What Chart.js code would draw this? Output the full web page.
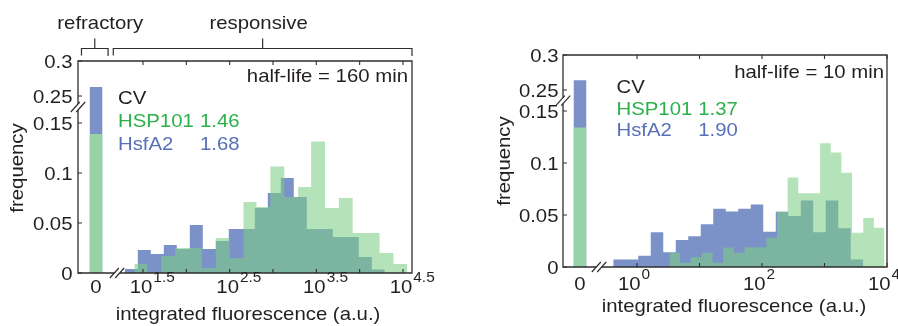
<!DOCTYPE html>
<html>
<head>
<meta charset="utf-8">
<script src="https://cdn.jsdelivr.net/npm/chart.js@4.4.1/dist/chart.umd.min.js"></script>
<style>
  html, body { margin: 0; padding: 0; background: #fff; width: 898px; height: 326px; overflow: hidden; }
  canvas { position: absolute; top: 0; }
  #slow { left: 0; }
  #fast { left: 449px; }
</style>
</head>
<body>
<canvas id="slow" width="449" height="326"></canvas>
<canvas id="fast" width="449" height="326"></canvas>
<script>
// ---------- histogram data (x = log10 of integrated fluorescence) ----------
// half-life = 160 min
const slowBlueEdges  = [1.29, 1.44, 1.59, 1.74, 1.89, 2.04, 2.19, 2.34, 2.49, 2.64, 2.79,
                        2.94, 3.09, 3.24, 3.39, 3.54, 3.69, 3.84, 3.99, 4.14, 4.29];
const slowBlueFreq   = [0.004, 0.023, 0.019, 0.028, 0.024, 0.048, 0.024, 0.032, 0.044, 0.044,
                        0.065, 0.080, 0.095, 0.076, 0.044, 0.044, 0.036, 0.036, 0.016, 0.0035];
const slowGreenEdges = [1.40, 1.55, 1.71, 1.87, 2.03, 2.18, 2.34, 2.50, 2.66, 2.81, 2.97,
                        3.13, 3.29, 3.44, 3.60, 3.76, 3.92, 4.07, 4.23, 4.39, 4.55];
const slowGreenFreq  = [0.009, 0, 0.017, 0.025, 0.025, 0.005, 0.035, 0.015, 0.071, 0.066,
                        0.1065, 0.076, 0.086, 0.1315, 0.065, 0.075, 0.040, 0.040, 0.020, 0.009];
const slowZeroBlue   = 0.263;   // HsfA2, refractory (zero) bin
const slowZeroGreen  = 0.139;   // HSP101, refractory (zero) bin
const slowCV         = ['1.46', '1.68'];   // HSP101, HsfA2

// half-life = 10 min
const fastBlueEdges  = [-0.38, -0.18, 0.02, 0.22, 0.42, 0.62, 0.82, 1.02, 1.22, 1.42, 1.62,
                        1.82, 2.02, 2.22, 2.42, 2.62, 2.82, 3.02, 3.22, 3.42, 3.62];
const fastBlueFreq   = [0.0072, 0.0072, 0.0108, 0.0335, 0.0142, 0.026, 0.0296, 0.041, 0.056, 0.0534,
                        0.056, 0.060, 0.034, 0.053, 0.049, 0.064, 0.0335, 0.064, 0.0373, 0.0072];
const fastGreenEdges = [0.52, 0.69, 0.86, 1.04, 1.21, 1.38, 1.55, 1.72, 1.90, 2.07, 2.24,
                        2.41, 2.58, 2.76, 2.93, 3.10, 3.27, 3.44, 3.62, 3.79, 3.96];
const fastGreenFreq  = [0.0137, 0.004, 0.0094, 0.0137, 0.004, 0.0188, 0.0137, 0.019, 0.019, 0.028,
                        0.053, 0.086, 0.071, 0.071, 0.119, 0.110, 0.0905, 0.033, 0.047, 0.0377];
const fastZeroBlue   = 0.264;
const fastZeroGreen  = 0.134;
const fastCV         = ['1.37', '1.90'];

// ---------- tick labels ----------
const yTickValues = [0, 0.05, 0.1, 0.15, 0.25, 0.3];
const yTickLabels = ['0', '0.05', '0.1', '0.15', '0.25', '0.3'];
const slowXTickMarks = [1.5, 2, 2.5, 3, 3.5, 4, 4.5];
const slowXLabelVals = [1.5, 2.5, 3.5, 4.5];
const slowXLabelExps = ['1.5', '2.5', '3.5', '4.5'];
const fastXTickMarks = [0, 1, 2, 3, 4];
const fastXLabelVals = [0, 2, 4];
const fastXLabelExps = ['0', '2', '4'];

// ---------- styling ----------
const FONT = '"Liberation Sans", Arial, Helvetica, sans-serif';
const INK = '#231f20';
const AXIS = '#2e2e2e';
const BLUE_FILL = '#7a92c8';
const GREEN_FILL = 'rgba(125, 206, 132, 0.57)';
const ZERO_BLUE = '#7b91c8';
const ZERO_GREEN = '#97d3a6';
const GREEN_TEXT = '#2bb04a';
const BLUE_TEXT = '#5870b8';
const SX = 1.1;   // horizontal text stretch
const EXP_SIZE = 14;

function drawText(ctx, s, x, y, opt = {}) {
  const size = opt.size || 18.5;
  ctx.save();
  ctx.font = size + 'px ' + FONT;
  ctx.fillStyle = opt.color || INK;
  ctx.textBaseline = 'alphabetic';
  ctx.textAlign = 'left';
  const w = ctx.measureText(s).width * SX;
  let x0 = x;
  if (opt.align === 'right') x0 = x - w;
  else if (opt.align === 'center') x0 = x - w / 2;
  ctx.translate(x0, y);
  ctx.scale(SX, 1);
  ctx.fillText(s, 0, 0);
  ctx.restore();
  return w;
}
function textWidth(ctx, s, size) {
  ctx.save();
  ctx.font = size + 'px ' + FONT;
  const w = ctx.measureText(s).width * SX;
  ctx.restore();
  return w;
}

// Step outline of a histogram, closed down to zero on both ends
function histPoints(edges, freq, map) {
  const pts = [{ x: edges[0], y: 0 }];
  for (let i = 0; i < freq.length; i++) {
    pts.push({ x: edges[i], y: map(freq[i]) });
    pts.push({ x: edges[i + 1], y: map(freq[i]) });
  }
  pts.push({ x: edges[freq.length], y: 0 });
  return pts;
}

function histDataset(points, color, order) {
  return {
    data: points, order: order,
    showLine: true, fill: 'origin', tension: 0,
    backgroundColor: color, borderColor: 'transparent', borderWidth: 0,
    pointRadius: 0
  };
}

// Slanted "//" marks where an axis is broken
function breakMarks(ctx, cx, cy, vertical) {
  ctx.save();
  ctx.fillStyle = '#fff';
  if (vertical) ctx.fillRect(cx - 2, cy - 3, 4, 6);
  else ctx.fillRect(cx - 3, cy - 2, 6, 4);
  ctx.strokeStyle = AXIS;
  ctx.lineWidth = 1.2;
  ctx.beginPath();
  for (const d of [-2.7, 2.7]) {
    ctx.moveTo(cx + d - 4.5, cy + 5);
    ctx.lineTo(cx + d + 4.5, cy - 5);
  }
  ctx.stroke();
  ctx.restore();
}

function decorPlugin(p) {
  return {
    id: 'decor_' + p.name,
    afterDatasetsDraw(chart) {
      const ctx = chart.ctx;
      const xs = chart.scales.x, ys = chart.scales.y;
      const { left, right, top, bottom } = chart.chartArea;
      const X = v => xs.getPixelForValue(v);
      const Y = v => ys.getPixelForValue(p.yMap(v));

      // box
      ctx.save();
      ctx.strokeStyle = AXIS;
      ctx.lineWidth = 1.3;
      ctx.beginPath();
      ctx.moveTo(left, top); ctx.lineTo(right, top); ctx.lineTo(right, bottom);
      ctx.lineTo(left, bottom); ctx.closePath();
      ctx.stroke();

      // inward ticks
      ctx.lineWidth = 1.1;
      ctx.beginPath();
      yTickValues.forEach(v => {
        const py = Y(v);
        ctx.moveTo(left, py); ctx.lineTo(left + 4, py);
      });
      p.xTickMarks.forEach(v => {
        const px = X(v);
        ctx.moveTo(px, bottom); ctx.lineTo(px, bottom - 4);
        ctx.moveTo(px, top); ctx.lineTo(px, top + 4);
      });
      ctx.stroke();
      ctx.restore();

      // axis breaks
      breakMarks(ctx, left, ys.getPixelForValue(p.breakU), true);
      breakMarks(ctx, X(p.xBreak), bottom, false);

      // y tick labels
      yTickValues.forEach((v, i) => {
        drawText(ctx, yTickLabels[i], left - p.yLabelGap, Y(v) + 6.6, { align: 'right' });
      });

      // x tick labels: zero slot and powers of ten
      drawText(ctx, '0', X(p.zeroCenter), p.xLabelBase, { align: 'center' });
      p.xLabelVals.forEach((v, i) => {
        const wb = textWidth(ctx, '10', 18.5);
        const we = textWidth(ctx, p.xLabelExps[i], EXP_SIZE);
        const px = X(v) + p.xLabelShift;
        const x0 = p.centerBase ? px - wb / 2 : px - (wb + we + 1) / 2;
        drawText(ctx, '10', x0, p.xLabelBase);
        drawText(ctx, p.xLabelExps[i], x0 + wb + 1, p.xLabelBase - 11, { size: EXP_SIZE });
      });

      // axis titles
      drawText(ctx, 'integrated fluorescence (a.u.)', p.xTitleX, p.xTitleY, { align: 'center' });
      ctx.save();
      ctx.translate(p.yTitleX, p.yTitleY);
      ctx.rotate(-Math.PI / 2);
      drawText(ctx, 'frequency', 0, 0, { align: 'center' });
      ctx.restore();

      // annotations
      drawText(ctx, p.halfLife, p.halfLifeX, p.halfLifeY, { align: 'right' });
      drawText(ctx, 'CV', p.cvX, p.cvY[0]);
      drawText(ctx, 'HSP101', p.cvX, p.cvY[1], { color: GREEN_TEXT });
      drawText(ctx, p.cv[0], p.cvValX, p.cvY[1], { color: GREEN_TEXT });
      drawText(ctx, 'HsfA2', p.cvX, p.cvY[2], { color: BLUE_TEXT });
      drawText(ctx, p.cv[1], p.cvValX, p.cvY[2], { color: BLUE_TEXT });

      // refractory / responsive brackets
      if (p.brackets) {
        ctx.save();
        ctx.strokeStyle = AXIS;
        ctx.lineWidth = 1.2;
        p.brackets.forEach(b => {
          const x1 = X(b.from), x2 = X(b.to), xm = (x1 + x2) / 2;
          ctx.beginPath();
          ctx.moveTo(x1, 55.5); ctx.lineTo(x1, 48.5); ctx.lineTo(x2, 48.5); ctx.lineTo(x2, 56);
          ctx.moveTo(xm, 48.5); ctx.lineTo(xm, 38.5);
          ctx.stroke();
          drawText(ctx, b.label, xm + b.dx, 28.5, { align: 'center' });
        });
        ctx.restore();
      }
    }
  };
}

function buildPanel(canvasId, p) {
  const zeroEdges = [p.zeroCenter - p.zeroWidth / 2, p.zeroCenter + p.zeroWidth / 2];
  const datasets = [
    histDataset(histPoints(p.blueEdges, p.blueFreq, p.yMap), BLUE_FILL, 4),
    histDataset(histPoints(p.greenEdges, p.greenFreq, p.yMap), GREEN_FILL, 3),
    histDataset(histPoints(zeroEdges, [p.zeroBlue], p.yMap), ZERO_BLUE, 2),
    histDataset(histPoints(zeroEdges, [p.zeroGreen], p.yMap), ZERO_GREEN, 1)
  ];
  return new Chart(document.getElementById(canvasId), {
    type: 'line',
    data: { datasets },
    options: {
      responsive: false,
      animation: false,
      events: [],
      layout: { padding: p.padding },
      scales: {
        x: { type: 'linear', min: p.xMin, max: p.xMax, display: false },
        y: { type: 'linear', min: 0, max: p.yMax, display: false }
      },
      plugins: { legend: { display: false }, tooltip: { enabled: false } }
    },
    plugins: [decorPlugin(p)]
  });
}

// Broken frequency axis: 0-0.15 linear, then a compressed 0.25-0.3 band
buildPanel('slow', {
  name: 'slow',
  padding: { left: 78, right: 37, top: 61, bottom: 53 },
  xMin: 0.75, xMax: 4.604, yMax: 0.212,
  yMap: v => (v <= 0.2 ? v : 0.177 + (v - 0.25) * 0.70),
  breakU: 0.166, xBreak: 1.2,
  zeroCenter: 0.958, zeroWidth: 0.15,
  blueEdges: slowBlueEdges, blueFreq: slowBlueFreq,
  greenEdges: slowGreenEdges, greenFreq: slowGreenFreq,
  zeroBlue: slowZeroBlue, zeroGreen: slowZeroGreen,
  xTickMarks: slowXTickMarks, xLabelVals: slowXLabelVals, xLabelExps: slowXLabelExps,
  centerBase: true, xLabelShift: -2, xLabelBase: 293,
  yLabelGap: 5.5,
  xTitleX: 248, xTitleY: 320, yTitleX: 23, yTitleY: 168,
  halfLife: 'half-life = 160 min', halfLifeX: 408, halfLifeY: 82,
  cv: slowCV, cvX: 118, cvValX: 200, cvY: [104, 127, 150],
  brackets: [
    { from: 0.79, to: 1.097, label: 'refractory', dx: 5.5 },
    { from: 1.157, to: 4.604, label: 'responsive', dx: -4 }
  ]
});

buildPanel('fast', {
  name: 'fast',
  padding: { left: 114, right: 11, top: 55, bottom: 59 },
  xMin: -1.184, xMax: 4.0, yMax: 0.2038,
  yMap: v => (v <= 0.2 ? v : 0.1702 + (v - 0.25) * 0.672),
  breakU: 0.16, xBreak: -0.608,
  zeroCenter: -0.912, zeroWidth: 0.208,
  blueEdges: fastBlueEdges, blueFreq: fastBlueFreq,
  greenEdges: fastGreenEdges, greenFreq: fastGreenFreq,
  zeroBlue: fastZeroBlue, zeroGreen: fastZeroGreen,
  xTickMarks: fastXTickMarks, xLabelVals: fastXLabelVals, xLabelExps: fastXLabelExps,
  centerBase: false, xLabelShift: -3, xLabelBase: 290,
  yLabelGap: 4.5,
  xTitleX: 285, xTitleY: 312, yTitleX: 60.5, yTitleY: 161,
  halfLife: 'half-life = 10 min', halfLifeX: 435, halfLifeY: 78,
  cv: fastCV, cvX: 167.5, cvValX: 249.3, cvY: [93, 115, 136],
  brackets: null
});
</script>
</body>
</html>
